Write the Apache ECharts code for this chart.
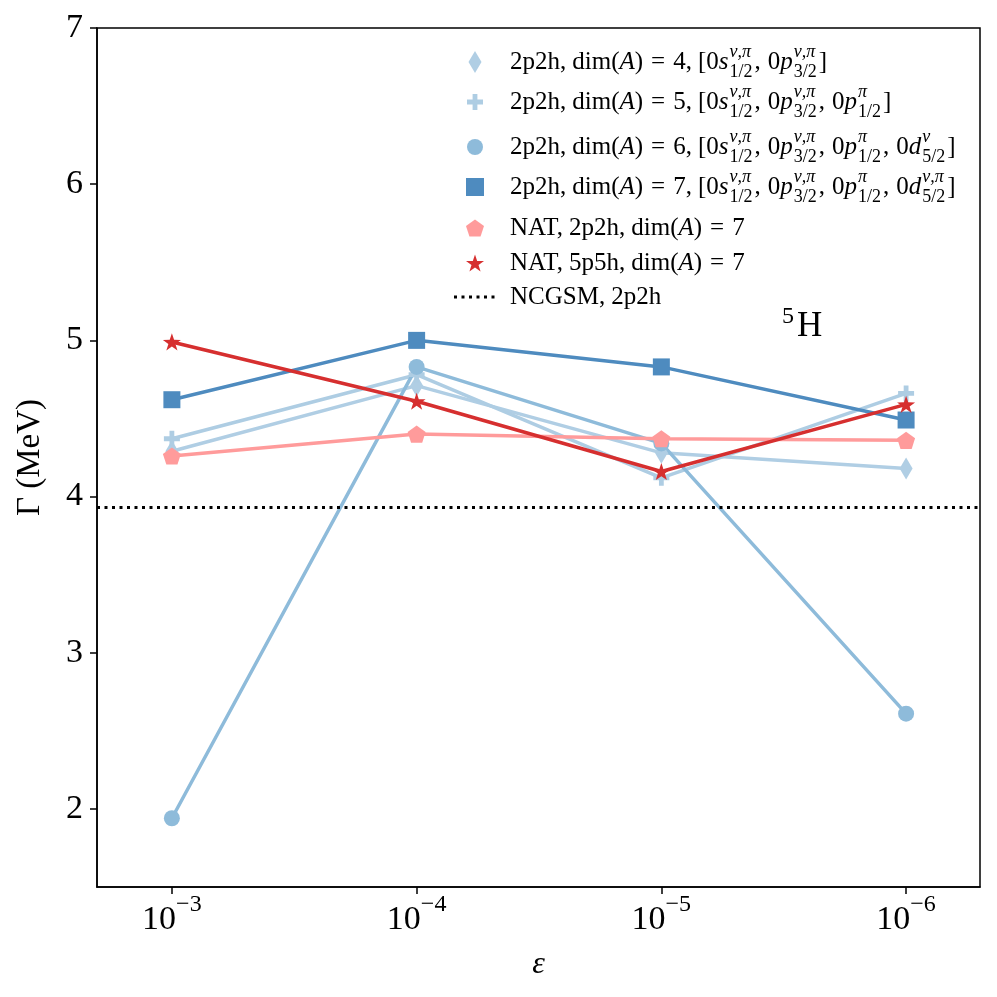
<!DOCTYPE html>
<html>
<head>
<meta charset="utf-8">
<script src="https://cdn.jsdelivr.net/npm/echarts@6/dist/echarts.min.js"></script>
<style>
  html, body { margin: 0; padding: 0; background: #fff; }
  #chart { width: 997px; height: 997px; }
</style>
</head>
<body>
<div id="chart"></div>
<script>
// x positions 0..3 are the epsilon steps
const epsExp = ['−3', '−4', '−5', '−6'];
const xPos = [0, 1, 2, 3];
const yTicks = [2, 3, 4, 5, 6, 7];

// Gamma (MeV) for each run
const dim4 = [4.29, 4.71, 4.28, 4.18];
const dim5 = [4.37, 4.78, 4.12, 4.66];
const dim6 = [1.94, 4.83, 4.34, 2.61];
const dim7 = [4.62, 5.00, 4.83, 4.49];
const natTwo = [4.26, 4.40, 4.37, 4.36];
const natFive = [4.99, 4.61, 4.16, 4.59];
const ncgsm = 3.93;

const X_MIN = -0.306, X_MAX = 3.302;
const FONT = '"Liberation Serif", "DejaVu Serif", serif';

const PLUS = 'path://M35,0H65V35H100V65H65V100H35V65H0V35H35Z';
const PENTA = 'path://M50,0L100,36.3L80.9,95.1L19.1,95.1L0,36.3Z';
const STAR = 'path://M50,0L61.8,35.3L98.9,35.6L69.1,57.7L80.3,93.1L50,71.5L19.7,93.1L30.9,57.7L1.1,35.6L38.2,35.3Z';

const names = ['dim4', 'dim5', 'dim6', 'dim7', 'natTwo', 'natFive', 'ncgsm'];

function pts(arr) {
  return arr.map((v, i) => [xPos[i], v]);
}

function lineSeries(name, data, color, symbol, size) {
  return {
    name: name,
    type: 'line',
    data: pts(data),
    symbol: symbol,
    symbolSize: size,
    symbolKeepAspect: true,
    lineStyle: { color: color, width: 3.5 },
    itemStyle: { color: color },
    emphasis: { disabled: true },
    animation: false
  };
}

// ---- legend text with stacked super/subscripts ----
const ctx = document.createElement('canvas').getContext('2d');
function textW(str, font) {
  ctx.font = font;
  return ctx.measureText(str).width;
}
const RM = '25px ' + FONT;
const IT = 'italic 25px ' + FONT;
const SRM = '18px ' + FONT;
const SIT = 'italic 18px ' + FONT;

function R(t) { return { t: t, f: RM }; }
function I(t) { return { t: t, f: IT }; }
function S(sup, sub) { return { sup: sup, sub: sub }; }
function G(w) { return { gap: w }; }

function mathRow(tokens, x0, yc) {
  const out = [];
  let x = x0;
  tokens.forEach(tk => {
    if (tk.gap !== undefined) {
      x += tk.gap;
    } else if (tk.t !== undefined) {
      out.push({ type: 'text', x: x, y: yc, silent: true,
        style: { text: tk.t, font: tk.f, fill: '#000', textAlign: 'left', textVerticalAlign: 'middle' } });
      x += textW(tk.t, tk.f);
    } else {
      const w1 = textW(tk.sup, SIT);
      const w2 = textW(tk.sub, SRM);
      out.push({ type: 'text', x: x + 1, y: yc - 10, silent: true,
        style: { text: tk.sup, font: SIT, fill: '#000', textAlign: 'left', textVerticalAlign: 'middle' } });
      out.push({ type: 'text', x: x + 1, y: yc + 10, silent: true,
        style: { text: tk.sub, font: SRM, fill: '#000', textAlign: 'left', textVerticalAlign: 'middle' } });
      x += Math.max(w1, w2) + 3;
    }
  });
  return out;
}

const rowY = [62, 102, 147, 187, 228, 263, 297];
const TX = 510;
const head = [R('2p2h,'), G(6), R('dim('), I('A'), R(')'), G(8), R('='), G(8)];
const sS = [R('[0'), I('s'), S('ν,π', '1/2'), R(','), G(7), R('0'), I('p'), S('ν,π', '3/2')];
const pH = [R(','), G(7), R('0'), I('p'), S('π', '1/2')];
const legendRows = [
  head.concat([R('4,'), G(6)], sS, [R(']')]),
  head.concat([R('5,'), G(6)], sS, pH, [R(']')]),
  head.concat([R('6,'), G(6)], sS, pH, [R(','), G(7), R('0'), I('d'), S('ν', '5/2'), R(']')]),
  head.concat([R('7,'), G(6)], sS, pH, [R(','), G(7), R('0'), I('d'), S('ν,π', '5/2'), R(']')]),
  [R('NAT,'), G(6), R('2p2h,'), G(6), R('dim('), I('A'), R(')'), G(8), R('='), G(8), R('7')],
  [R('NAT,'), G(6), R('5p5h,'), G(6), R('dim('), I('A'), R(')'), G(8), R('='), G(8), R('7')],
  [R('NCGSM,'), G(6), R('2p2h')]
];

let graphics = [];
legendRows.forEach((row, i) => {
  graphics = graphics.concat(mathRow(row, TX, rowY[i]));
});
graphics.push({ type: 'text', x: 782, y: 317, silent: true,
  style: { text: '5', font: '24px ' + FONT, fill: '#000', textAlign: 'left', textVerticalAlign: 'middle' } });
graphics.push({ type: 'text', x: 797, y: 327, silent: true,
  style: { text: 'H', font: '35px ' + FONT, fill: '#000', textAlign: 'left', textVerticalAlign: 'middle' } });

// ---- one legend per row so rows can sit at their own heights ----
const legendIcons = [
  { icon: 'diamond', w: 13, h: 22 },
  { icon: PLUS, w: 16, h: 16 },
  { icon: 'circle', w: 16, h: 16 },
  { icon: 'rect', w: 18, h: 18 },
  { icon: PENTA, w: 18, h: 18 },
  { icon: STAR, w: 18, h: 18 },
  { icon: null, w: 45, h: 14 }
];
const legends = legendIcons.map((li, i) => {
  const item = { name: names[i] };
  if (li.icon) item.icon = li.icon;
  else {
    item.itemStyle = { opacity: 0 };
    item.lineStyle = { width: 3, type: [3, 4.5], color: '#000' };
  }
  return {
    data: [item],
    left: 475 - li.w / 2,
    top: rowY[i] - li.h / 2,
    padding: 0,
    itemWidth: li.w,
    itemHeight: li.h,
    selectedMode: false,
    formatter: () => '',
    textStyle: { fontSize: 1 }
  };
});

const chart = echarts.init(document.getElementById('chart'));

const option = {
  backgroundColor: '#fff',
  animation: false,
  grid: {
    left: 97, right: 17, top: 28, bottom: 110,
    show: true, borderColor: '#000', borderWidth: 1.5
  },
  xAxis: {
    type: 'value',
    min: X_MIN,
    max: X_MAX,
    name: 'ε',
    nameLocation: 'middle',
    nameGap: 62,
    nameTextStyle: { fontFamily: FONT, fontStyle: 'italic', fontSize: 32, color: '#000' },
    axisLine: { show: true, onZero: false, lineStyle: { color: '#000', width: 1.5 } },
    axisTick: { show: true, customValues: xPos, length: 7, lineStyle: { color: '#000', width: 1.5 } },
    axisLabel: {
      customValues: xPos,
      margin: 6,
      color: '#000',
      formatter: v => '{b|10}{s|' + epsExp[Math.round(v)] + '}',
      rich: {
        b: { fontFamily: FONT, fontSize: 34, color: '#000', verticalAlign: 'bottom', lineHeight: 44 },
        s: { fontFamily: FONT, fontSize: 24, color: '#000', verticalAlign: 'top', lineHeight: 24 }
      }
    },
    splitLine: { show: false }
  },
  yAxis: {
    type: 'value',
    min: 1.5,
    max: 7,
    name: 'Γ (MeV)',
    nameLocation: 'middle',
    nameGap: 50,
    nameRotate: 90,
    nameTextStyle: { fontFamily: FONT, fontSize: 33, color: '#000' },
    axisLine: { show: true, onZero: false, lineStyle: { color: '#000', width: 1.5 } },
    axisTick: { show: true, customValues: yTicks, length: 7, lineStyle: { color: '#000', width: 1.5 } },
    axisLabel: {
      customValues: yTicks,
      margin: 14,
      color: '#000',
      fontFamily: FONT,
      fontSize: 34
    },
    splitLine: { show: false }
  },
  legend: legends,
  graphic: graphics,
  series: [
    lineSeries('dim4', dim4, '#b0cee4', 'diamond', [13, 22]),
    lineSeries('dim5', dim5, '#aecde3', PLUS, 16),
    lineSeries('dim6', dim6, '#8ebbda', 'circle', 16),
    lineSeries('dim7', dim7, '#4e8bbf', 'rect', 17),
    lineSeries('natTwo', natTwo, '#ff9b9b', PENTA, 18),
    lineSeries('natFive', natFive, '#d62f2f', STAR, 18),
    {
      name: 'ncgsm',
      type: 'line',
      data: [[X_MIN, ncgsm], [X_MAX, ncgsm]],
      symbol: 'none',
      lineStyle: { color: '#000', width: 3, type: [3, 4.5] },
      itemStyle: { color: '#000' },
      emphasis: { disabled: true },
      animation: false
    }
  ]
};

chart.setOption(option);
</script>
</body>
</html>
